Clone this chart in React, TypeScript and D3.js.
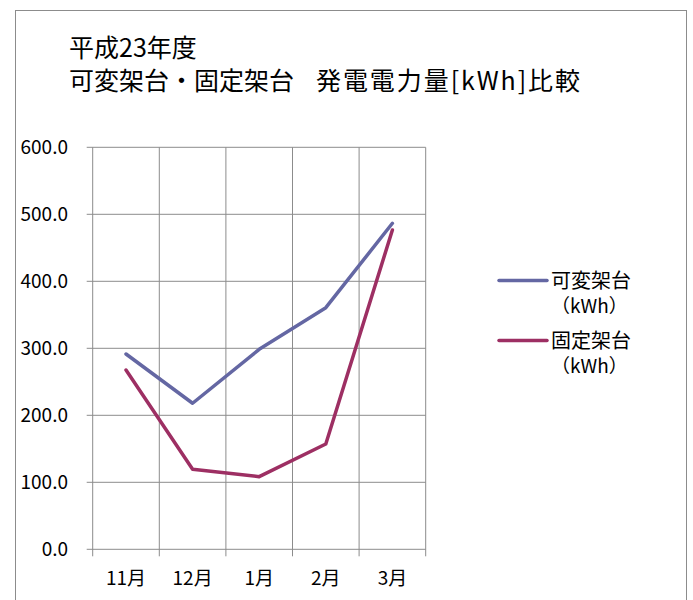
import React from "react";
import * as d3 from "d3";

// 月別カテゴリと各架台の発電電力量 (kWh)
const months = ["11月", "12月", "1月", "2月", "3月"];
const variableMount = [291.5, 218.0, 298.5, 360.6, 486.6];
const fixedMount = [267.6, 119.4, 108.4, 157.2, 476.6];
const yTicks = [0, 100, 200, 300, 400, 500, 600];

const seriesNames = ["可変架台", "固定架台"];
const seriesColors = ["#6467A3", "#9D2F63"];

const W = 693;
const H = 600;
const FONT = "'Noto Sans CJK JP', 'Noto Sans', sans-serif";
const GRID = "#8c8c8c";

export default function App() {
  const x = d3.scaleBand<string>().domain(months).range([92.7, 425.7]).padding(0);
  const y = d3.scaleLinear().domain([0, 600]).range([549.3, 147.3]);
  const cx = (m: string) => (x(m) ?? 0) + x.bandwidth() / 2;

  const line = d3
    .line<number>()
    .x((_, i) => cx(months[i]))
    .y((d) => y(d));

  const series = [variableMount, fixedMount];
  const [x0, x1] = x.range();
  const bounds = months.map((m) => x(m) ?? 0).concat([x1]);

  return (
    <svg
      width={W}
      height={H}
      style={{ position: "absolute", left: 0, top: 0, background: "#fff" }}
      fontFamily={FONT}
    >
      {/* chart frame */}
      <rect x={15.5} y={10.5} width={671} height={620} fill="#fff" stroke={GRID} strokeWidth={1} />

      {/* title */}
      <text x={69} y={57} fontSize={25} fill="#000">平成23年度</text>
      <text x={69} y={90} fontSize={25} fill="#000">
        可変架台・固定架台
        <tspan x={316} textLength={264} lengthAdjust="spacing">発電電力量[kWh]比較</tspan>
      </text>

      {/* horizontal gridlines + y ticks */}
      {yTicks.map((t) => (
        <g key={`y${t}`}>
          <line x1={x0 - 6} x2={x1} y1={y(t)} y2={y(t)} stroke={GRID} strokeWidth={1} />
          <text
            x={68}
            y={y(t)}
            dy="0.36em"
            textAnchor="end"
            fontSize={19}
            fill="#000"
          >
            {t.toFixed(1)}
          </text>
        </g>
      ))}

      {/* vertical gridlines + x ticks */}
      {bounds.map((b, i) => (
        <line key={`x${i}`} x1={b} x2={b} y1={y(600)} y2={y(0) + 7} stroke={GRID} strokeWidth={1} />
      ))}

      {months.map((m) => (
        <text key={m} x={cx(m)} y={585} textAnchor="middle" fontSize={19} fill="#000">
          {m}
        </text>
      ))}

      {/* series lines */}
      {series.map((s, i) => (
        <path
          key={seriesNames[i]}
          d={line(s) ?? ""}
          fill="none"
          stroke={seriesColors[i]}
          strokeWidth={3.5}
          strokeLinejoin="round"
          strokeLinecap="round"
        />
      ))}

      {/* legend */}
      {seriesNames.map((name, i) => {
        const ly = 280.5 + i * 60;
        return (
          <g key={`lg${i}`}>
            <line x1={499} x2={547} y1={ly} y2={ly} stroke={seriesColors[i]} strokeWidth={3.5} strokeLinecap="round" />
            <text x={551} y={ly} dy="0.36em" fontSize={20} fill="#000">{name}</text>
            <text x={551} y={ly + 26} dy="0.36em" fontSize={19} fill="#000">（kWh）</text>
          </g>
        );
      })}
    </svg>
  );
}
